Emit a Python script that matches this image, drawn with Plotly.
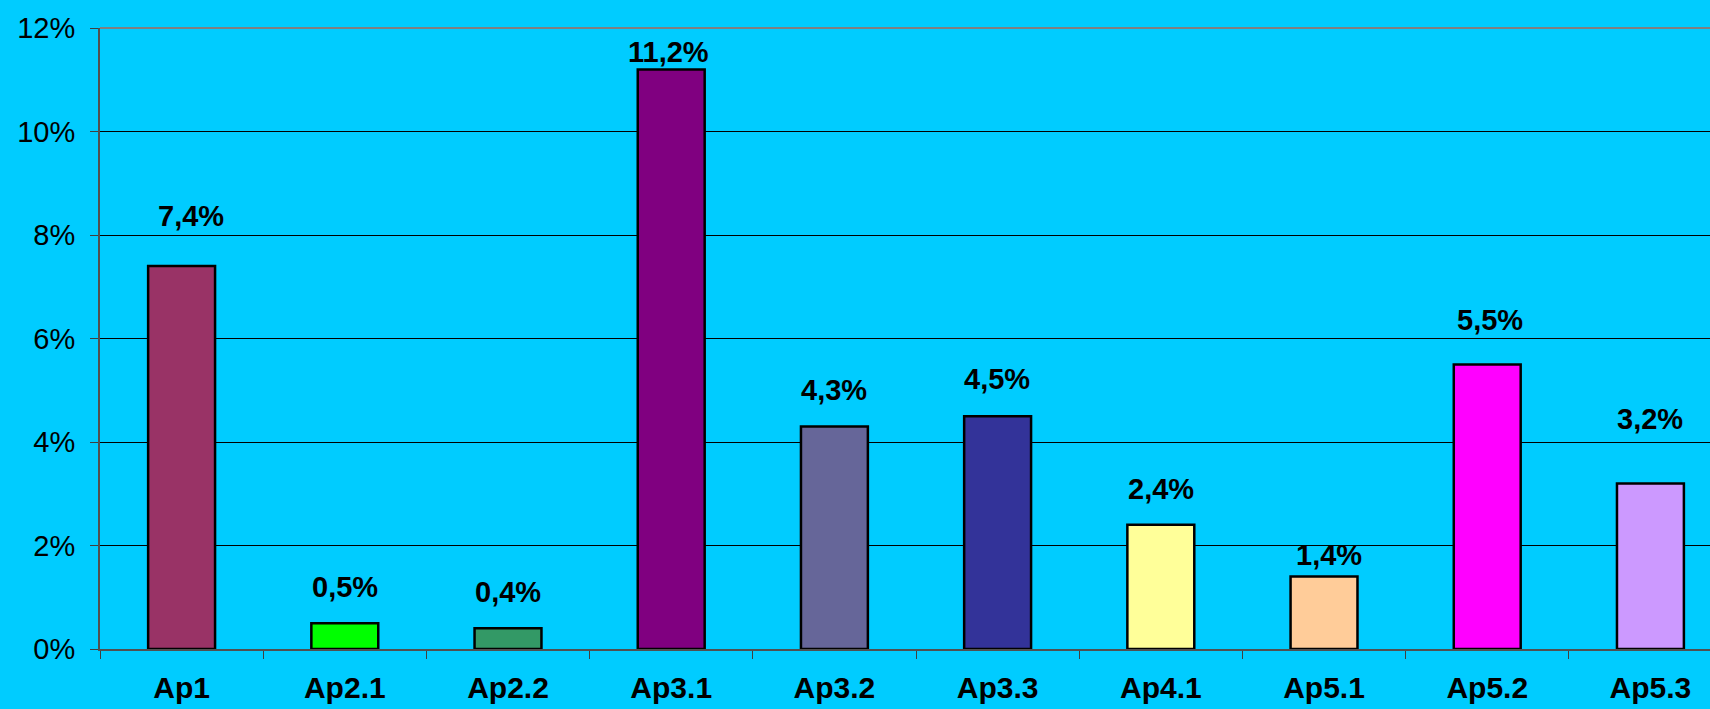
import plotly.graph_objects as go

categories = ["Ap1", "Ap2.1", "Ap2.2", "Ap3.1", "Ap3.2", "Ap3.3", "Ap4.1", "Ap5.1", "Ap5.2", "Ap5.3"]
values = [7.4, 0.5, 0.4, 11.2, 4.3, 4.5, 2.4, 1.4, 5.5, 3.2]
label_texts = ["7,4%", "0,5%", "0,4%", "11,2%", "4,3%", "4,5%", "2,4%", "1,4%", "5,5%", "3,2%"]
y_tick_vals = [0, 2, 4, 6, 8, 10, 12]
y_tick_text = ["0%", "2%", "4%", "6%", "8%", "10%", "12%"]

# styling
bar_colors = ["#993366", "#00FF00", "#339966", "#800080", "#666699",
              "#333399", "#FFFF99", "#FFCC99", "#FF00FF", "#CC99FF"]
label_dy = [50, 36, 36, 17, 36, 37, 36, 22, 44, 64]
label_dx = [9, 0, 0, -3, 0, -1, 0, 5, 3, 0]

BG = "#00CCFF"
FONT = "Liberation Sans, Arial, sans-serif"

fig = go.Figure()
fig.add_trace(go.Bar(
    x=categories, y=values,
    width=0.41,
    marker=dict(color=bar_colors, line=dict(color="black", width=2.5)),
    hoverinfo="skip",
))

for c, v, t, dy, dx in zip(categories, values, label_texts, label_dy, label_dx):
    fig.add_annotation(x=c, y=v, text="<b>%s</b>" % t, showarrow=False,
                       yanchor="middle", xanchor="center",
                       yshift=dy, xshift=dx,
                       font=dict(family=FONT, size=29, color="black"))

fig.update_layout(
    width=1710, height=709,
    margin=dict(l=100, r=0, t=28, b=60),
    paper_bgcolor=BG, plot_bgcolor=BG,
    showlegend=False,
)

fig.update_xaxes(
    type="category",
    range=[-0.5, 9.365],
    tickson="boundaries",
    ticks="outside", ticklen=8, tickwidth=1, tickcolor="#404040",
    showline=True, linecolor="#505050", linewidth=2,
    showgrid=False,
    tickvals=categories,
    ticktext=["<b>%s</b>" % c for c in categories],
    tickfont=dict(family=FONT, size=30, color="black"),
    ticklabelstandoff=11,
)
fig.update_yaxes(
    range=[0, 12],
    tickvals=y_tick_vals, ticktext=y_tick_text,
    ticks="outside", ticklen=8, tickwidth=1, tickcolor="#404040",
    showline=True, linecolor="#505050", linewidth=2,
    showgrid=True, gridcolor="black", gridwidth=1,
    zeroline=False,
    tickfont=dict(family=FONT, size=29, color="black"),
    ticklabelstandoff=9,
)

fig.add_shape(type="line", xref="paper", yref="paper", x0=0, x1=1, y0=1, y1=1,
              line=dict(color="#808080", width=2))

fig.write_html("out.html",
               config={"displayModeBar": False},
               post_script="document.body.style.margin='0';document.body.style.padding='0';"
                           "document.body.style.background='%s';" % BG)
